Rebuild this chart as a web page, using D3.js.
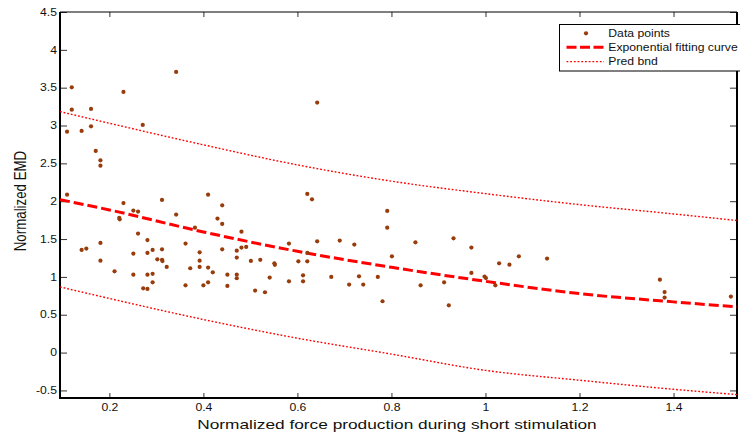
<!DOCTYPE html>
<html>
<head>
<meta charset="utf-8">
<script src="https://cdn.jsdelivr.net/npm/d3@7"></script>
<style>
  body { margin: 0; background: #fff; }
  svg { display: block; }
  text { font-family: "Liberation Sans", Arial, sans-serif; fill: #111; }
</style>
</head>
<body>
<svg id="chart" width="740" height="435"></svg>
<script>
// Normalized force production (x) and normalized EMD (y) for each measurement
const forceX = [
  0.120, 0.230, 0.342, 0.120, 0.161, 0.161, 0.141, 0.110, 0.271, 0.171,
  0.181, 0.181, 0.110, 0.230, 0.312, 0.410, 0.440, 0.251, 0.261, 0.342,
  0.221, 0.222, 0.430, 0.440, 0.382, 0.481, 0.261, 0.281, 0.642, 0.181,
  0.362, 0.141, 0.151, 0.251, 0.281, 0.292, 0.312, 0.392, 0.440, 0.471,
  0.481, 0.491, 0.181, 0.302, 0.312, 0.313, 0.392, 0.471, 0.501, 0.322,
  0.372, 0.392, 0.410, 0.420, 0.211, 0.251, 0.281, 0.292, 0.451, 0.471,
  0.471, 0.292, 0.362, 0.400, 0.410, 0.451, 0.272, 0.281, 0.510, 0.621,
  0.631, 0.791, 0.791, 0.582, 0.642, 0.690, 0.721, 0.851, 0.932, 0.970,
  0.621, 0.801, 0.521, 0.551, 0.552, 0.602, 0.621, 0.541, 0.582, 0.612,
  0.612, 0.672, 0.731, 0.771, 0.710, 0.740, 0.862, 0.912, 0.970, 0.998,
  1.001, 1.021, 1.029, 0.531, 0.781, 0.922, 1.051, 1.071, 1.131, 1.371,
  1.381, 1.381, 1.522
];
const emdY = [
  3.505, 3.444, 3.708, 3.210, 3.219, 2.989, 2.929, 2.919, 3.008, 2.664,
  2.540, 2.470, 2.087, 1.975, 2.017, 2.087, 1.946, 1.876, 1.863, 1.823,
  1.779, 1.761, 1.770, 1.700, 1.651, 1.598, 1.572, 1.486, 3.303, 1.449,
  1.440, 1.357, 1.374, 1.308, 1.317, 1.357, 1.365, 1.325, 1.365, 1.347,
  1.387, 1.396, 1.215, 1.232, 1.225, 1.209, 1.215, 1.255, 1.211, 1.132,
  1.114, 1.132, 1.123, 1.061, 1.074, 1.030, 1.030, 1.040, 1.030, 1.030,
  0.982, 0.929, 0.889, 0.889, 0.929, 0.881, 0.849, 0.841, 0.819, 2.096,
  2.025, 1.872, 1.651, 1.440, 1.470, 1.480, 1.427, 1.457, 1.510, 1.387,
  1.317, 1.272, 1.225, 1.180, 1.160, 1.206, 1.206, 0.991, 0.942, 1.021,
  0.942, 1.000, 1.008, 1.000, 0.898, 0.898, 0.889, 0.929, 1.053, 1.004,
  0.984, 0.889, 1.180, 0.797, 0.678, 0.625, 1.162, 1.272, 1.242, 0.964,
  0.799, 0.727, 0.740
];

// Exponential fitting curve and prediction bounds, sampled along the force axis
const curveX = [0.095, 0.2, 0.4, 0.6, 0.8, 1.0, 1.2, 1.4, 1.535];
const fitY   = [2.021, 1.885, 1.594, 1.338, 1.127, 0.942, 0.779, 0.670, 0.604];
const upperY = [3.184, 3.030, 2.745, 2.480, 2.265, 2.100, 1.955, 1.832, 1.745];
const lowerY = [0.868, 0.715, 0.437, 0.190, -0.020, -0.235, -0.365, -0.485, -0.555];

// Axis ticks
const xTicks = [0.2, 0.4, 0.6, 0.8, 1.0, 1.2, 1.4];
const xTickLabels = ["0.2", "0.4", "0.6", "0.8", "1", "1.2", "1.4"];
const yTicks = [-0.5, 0, 0.5, 1, 1.5, 2, 2.5, 3, 3.5, 4, 4.5];
const yTickLabels = ["-0.5", "0", "0.5", "1", "1.5", "2", "2.5", "3", "3.5", "4", "4.5"];

const legendLabels = ["Data points", "Exponential fitting curve", "Pred bnd"];
const xTitle = "Normalized force production during short stimulation";
const yTitle = "Normalized EMD";

const pointColor = "#983c0c";
const lineColor = "#ff0000";

const svg = d3.select("#chart");
const plot = { left: 60, right: 737, top: 12, bottom: 398 };

const x = d3.scaleLinear().domain([0.095, 1.535]).range([plot.left, plot.right]);
const y = d3.scaleLinear().domain([-0.6, 4.5]).range([plot.bottom, plot.top]);

// Text is drawn slightly wide, as in the exported figure
function widen(sel, s) {
  sel.each(function () {
    const t = d3.select(this);
    const x0 = +t.attr("x") || 0;
    t.attr("x", x0 / s).attr("transform", `scale(${s},1)`);
  });
}

svg.append("defs").append("clipPath").attr("id", "plotClip")
  .append("rect")
  .attr("x", plot.left).attr("y", plot.top)
  .attr("width", plot.right - plot.left).attr("height", plot.bottom - plot.top);

// Axes with inward ticks
const fmtX = d => xTickLabels[xTicks.indexOf(d)];
const fmtY = d => yTickLabels[yTicks.indexOf(d)];

const gx = svg.append("g")
  .attr("transform", `translate(0,${plot.bottom})`)
  .call(d3.axisBottom(x).tickValues(xTicks).tickFormat(fmtX).tickSize(-5).tickSizeOuter(0).tickPadding(5.5));
const gy = svg.append("g")
  .attr("transform", `translate(${plot.left},0)`)
  .call(d3.axisLeft(y).tickValues(yTicks).tickFormat(fmtY).tickSize(-7).tickSizeOuter(0).tickPadding(3));
const gt = svg.append("g")
  .attr("transform", `translate(0,${plot.top})`)
  .call(d3.axisTop(x).tickValues(xTicks).tickFormat("").tickSize(-5).tickSizeOuter(0));
const gr = svg.append("g")
  .attr("transform", `translate(${plot.right},0)`)
  .call(d3.axisRight(y).tickValues(yTicks).tickFormat("").tickSize(-7).tickSizeOuter(0));

[gx, gy, gt, gr].forEach(g => {
  g.select(".domain").remove();
  g.selectAll(".tick line").attr("stroke", "#333").attr("stroke-width", 1);
  g.selectAll(".tick text").attr("font-size", 10).attr("fill", "#111")
    .attr("font-family", "Liberation Sans, Arial, sans-serif");
});
widen(gx.selectAll(".tick text"), 1.22);
widen(gy.selectAll(".tick text"), 1.22);

// Frame
const frame = svg.append("g").attr("stroke", "#000").attr("fill", "none");
frame.append("line").attr("x1", plot.left).attr("x2", plot.right)
  .attr("y1", plot.top).attr("y2", plot.top).attr("stroke-width", 1.2);
frame.append("line").attr("x1", plot.left).attr("x2", plot.right + 1)
  .attr("y1", plot.bottom).attr("y2", plot.bottom).attr("stroke-width", 2);
frame.append("line").attr("x1", plot.left).attr("x2", plot.left)
  .attr("y1", plot.top).attr("y2", plot.bottom + 1).attr("stroke-width", 2);
frame.append("line").attr("x1", plot.right).attr("x2", plot.right)
  .attr("y1", plot.top).attr("y2", plot.bottom + 1).attr("stroke-width", 2);

// Fit and prediction bounds
const lineGen = ys => d3.line()
  .x((d, i) => x(curveX[i]))
  .y((d, i) => y(ys[i]))
  .curve(d3.curveMonotoneX)(ys);

const curves = svg.append("g").attr("clip-path", "url(#plotClip)").attr("fill", "none");
curves.append("path").attr("d", lineGen(upperY))
  .attr("stroke", lineColor).attr("stroke-width", 1.4).attr("stroke-dasharray", "1.8,1.9");
curves.append("path").attr("d", lineGen(lowerY))
  .attr("stroke", lineColor).attr("stroke-width", 1.4).attr("stroke-dasharray", "1.8,1.9");
curves.append("path").attr("d", lineGen(fitY))
  .attr("stroke", lineColor).attr("stroke-width", 3).attr("stroke-dasharray", "10,4");

// Data points
svg.append("g").attr("clip-path", "url(#plotClip)")
  .selectAll("circle")
  .data(forceX.map((fx, i) => [fx, emdY[i]]))
  .join("circle")
  .attr("cx", d => x(d[0]))
  .attr("cy", d => y(d[1]))
  .attr("r", 2.1)
  .attr("fill", pointColor);

// Axis titles
svg.append("text")
  .attr("transform", `translate(397,428.7) scale(1.28,1)`)
  .attr("text-anchor", "middle")
  .attr("font-size", 13.5)
  .text(xTitle);
svg.append("text")
  .attr("transform", `translate(26,201) scale(1.28,1) rotate(-90)`)
  .attr("text-anchor", "middle")
  .attr("font-size", 13.3)
  .text(yTitle);

// Legend
const lg = svg.append("g");
lg.append("rect")
  .attr("x", 559.5).attr("y", 24.5).attr("width", 190).attr("height", 46.5)
  .attr("fill", "#fff").attr("stroke", "#000").attr("stroke-width", 1);
lg.append("circle").attr("cx", 586).attr("cy", 33.3).attr("r", 2.1).attr("fill", pointColor);
lg.append("line").attr("x1", 566.5).attr("x2", 604).attr("y1", 47.3).attr("y2", 47.3)
  .attr("stroke", lineColor).attr("stroke-width", 3).attr("stroke-dasharray", "10,3.5");
lg.append("line").attr("x1", 566.5).attr("x2", 604).attr("y1", 61.7).attr("y2", 61.7)
  .attr("stroke", lineColor).attr("stroke-width", 1.2).attr("stroke-dasharray", "1.8,1.9");
const legendY = [36.8, 51, 65.2];
legendLabels.forEach((label, i) => {
  lg.append("text")
    .attr("transform", `translate(608.3,${legendY[i]}) scale(1.22,1)`)
    .attr("font-size", 10)
    .text(label);
});
</script>
</body>
</html>
